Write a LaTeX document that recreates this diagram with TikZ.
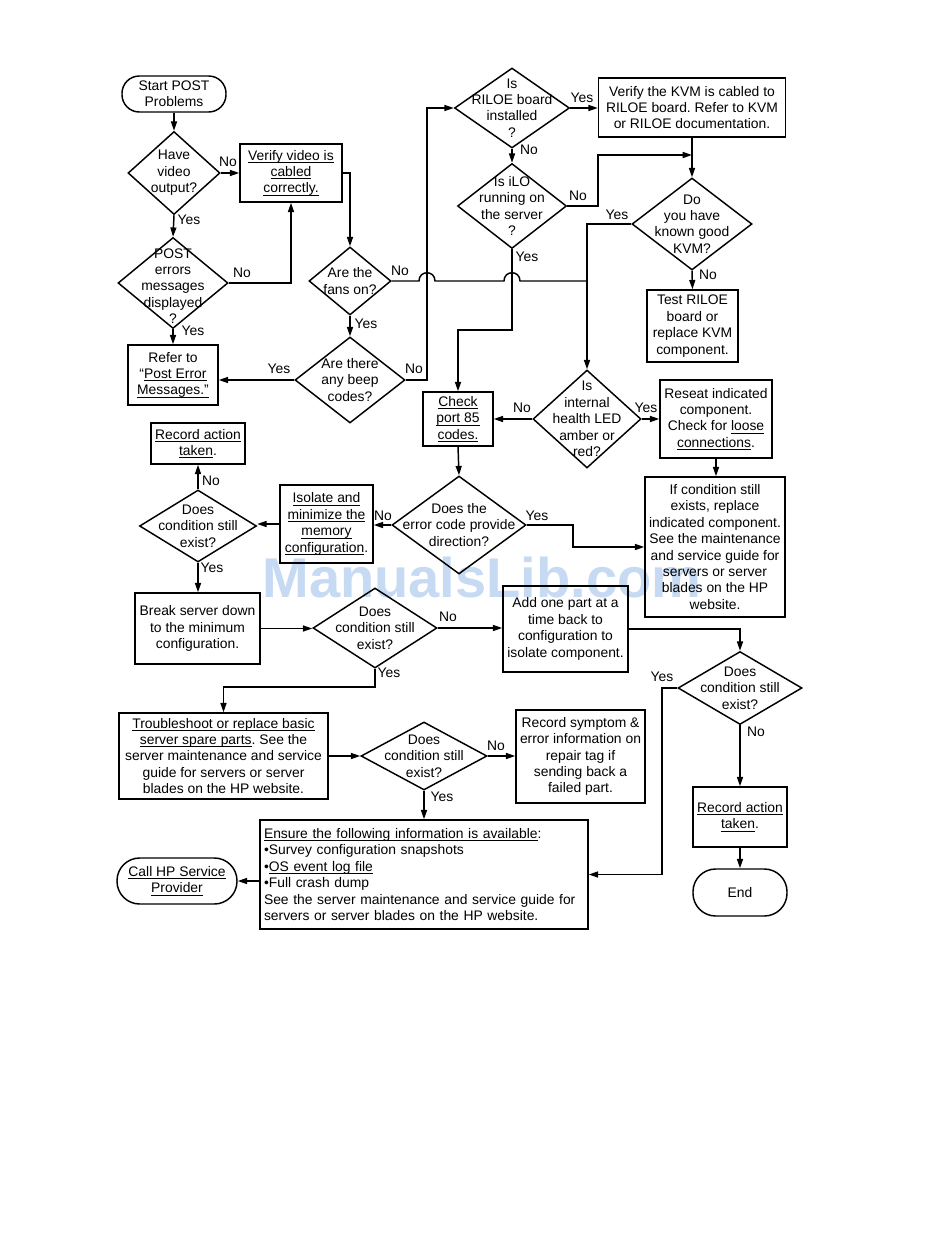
\documentclass[tikz,border=0pt]{standalone}
\usepackage{fontspec}
\setmainfont{Liberation Sans}
\usetikzlibrary{shapes.geometric,arrows.meta}
\definecolor{wmark}{RGB}{198,218,243}
\newcommand{\myul}[1]{\setbox0\hbox{#1}\rlap{\rule[-1.9pt]{\wd0}{0.55pt}}\box0}
\tikzset{
  every node/.style={font=\fontsize{10.4}{12.3}\selectfont, inner sep=0pt},
  box/.style={draw, line width=1.1pt, align=center, rectangle},
  dia/.style={draw, line width=1.1pt, diamond},
  dtext/.style={align=center},
  term/.style={draw, line width=1.1pt, align=center, rectangle},
  wh/.style 2 args={minimum width=#1*0.75pt, minimum height=#2*0.75pt},
  arr/.style={line width=1.1pt, -{Triangle[length=7pt,width=4.5pt]}},
  ln/.style={line width=1.1pt}}
\begin{document}
\frenchspacing
\begin{tikzpicture}[x=0.75pt,y=-0.75pt]
\useasboundingbox[fill=white] (0,0) rectangle (950,1260);

% watermark
\node[text=wmark, font=\fontsize{42}{44}\bfseries\selectfont] (wm) at (482,577) {ManualsLib.com};

% terminals
\node[term, wh={104}{36}, rounded corners=13pt] (start) at (174,94) {Start POST\\Problems};
\node[term, wh={94}{47}, rounded corners=17pt] (end) at (740,892.5) {End};
\node[term, wh={120}{46}, rounded corners=17pt] (call) at (177,881) {\myul{Call HP Service}\\\myul{Provider}};

% diamonds
\node[dia, wh={92}{83}] (d1) at (174,173) {};
\node[dtext] (d1t) at (d1) {Have\\video\\output?};
\node[dia, wh={110}{91}] (d2) at (173,283) {};
\node[dtext] (d2t) at (173,286) {POST\\errors\\messages\\displayed\\?};
\node[dia, wh={82}{68}] (fans) at (350,281) {};
\node[dtext] (fanst) at (fans) {Are the\\fans on?};
\node[dia, wh={110}{86}] (beep) at (350,380) {};
\node[dtext] (beept) at (beep) {Are there\\any beep\\codes?};
\node[dia, wh={115}{80}] (riloe) at (512,108) {};
\node[dtext] (riloet) at (riloe) {Is\\RILOE board\\installed\\?};
\node[dia, wh={109}{85}] (ilo) at (512,206) {};
\node[dtext] (ilot) at (ilo) {Is iLO\\running on\\the server\\?};
\node[dia, wh={120}{92}] (dokvm) at (692,224) {};
\node[dtext] (dokvmt) at (dokvm) {Do\\you have\\known good\\KVM?};
\node[dia, wh={108}{98}] (health) at (587,419) {};
\node[dtext] (healtht) at (health) {Is\\internal\\health LED\\amber or\\red?};
\node[dia, wh={134}{98}] (errdir) at (459,525) {};
\node[dtext] (errdirt) at (errdir) {Does the\\error code provide\\direction?};
\node[dia, wh={117}{72}] (dleft) at (198,526) {};
\node[dtext] (dleftt) at (dleft) {Does\\condition still\\exist?};
\node[dia, wh={124}{80}] (dmid) at (375,628) {};
\node[dtext] (dmidt) at (dmid) {Does\\condition still\\exist?};
\node[dia, wh={124}{73}] (dright) at (740,688) {};
\node[dtext] (drightt) at (dright) {Does\\condition still\\exist?};
\node[dia, wh={126}{68}] (dbot) at (424,756) {};
\node[dtext] (dbott) at (dbot) {Does\\condition still\\exist?};

% boxes
\node[box, wh={102}{58}] (verify) at (291,173) {\myul{Verify video is}\\\myul{cabled}\\\myul{correctly.}};
\node[box, wh={90}{60}] (refer) at (173,375) {Refer to\\“\myul{Post Error}\\\myul{Messages.”}};
\node[box, wh={187}{59}] (kvmbox) at (692,107.5) {Verify the KVM is cabled to\\RILOE board. Refer to KVM\\or RILOE documentation.};
\node[box, wh={91}{72}] (test) at (692.5,326) {Test RILOE\\board or\\replace KVM\\component.};
\node[box, wh={70}{54}] (check) at (458,419) {\myul{Check}\\\myul{port 85}\\\myul{codes.}};
\node[box, wh={112}{78}] (reseat) at (716,419) {Reseat indicated\\component.\\Check for \myul{loose}\\\myul{connections}.};
\node[box, wh={140}{140}] (ifcond) at (715,547) {If condition still\\exists, replace\\indicated component.\\See the maintenance\\and service guide for\\servers or server\\blades on the HP\\website.};
\node[box, wh={93}{78}] (isolate) at (326.5,524) {\myul{Isolate and}\\\myul{minimize the}\\\myul{memory}\\\myul{configuration}.};
\node[box, wh={94}{41}] (rec1) at (198,443.5) {\myul{Record action}\\\myul{taken}.};
\node[box, wh={125}{71}] (break) at (197.5,628.5) {Break server down\\to the minimum\\configuration.};
\node[box, wh={125}{86}] (addpart) at (565.5,629) {Add one part at a\\time back to\\configuration to\\isolate component.};
\node[box, wh={94}{60}] (rec2) at (740,817) {\myul{Record action}\\\myul{taken}.};
\node[box, wh={209}{86}] (trouble) at (223.5,756) {\myul{Troubleshoot or replace basic}\\\myul{server spare parts}. See the\\server maintenance and service\\guide for servers or server\\blades on the HP website.};
\node[box, wh={129}{93}] (symptom) at (580.5,756.5) {Record symptom \&\\error information on\\repair tag if\\sending back a\\failed part.};
\node[box, wh={328}{109}, align=left, text width=240pt] (ensure) at (424,874.5) {\myul{Ensure the following information is available}:\\•Survey configuration snapshots\\•\myul{OS event log file}\\•Full crash dump\\See the server maintenance and service guide for\\servers or server blades on the HP website.};

% junction coordinates
\coordinate (j1) at (587,281);
\coordinate (j2) at (692,155);
\coordinate (j3) at (573,547);
\coordinate (j4) at (662,874.5);
\coordinate (c1) at (512,330);
\coordinate (c2) at (375,687);

% connectors
\draw[arr] (start.south) -- (d1.north);
\draw[arr] (d1.east) -- (d1.east -| verify.west);
\draw[arr] (d1.south) -- (d2.north);
\draw[arr] (d2.east) -| (verify.south);
\draw[arr] (d2.south) -- (refer.north);
\draw[arr] (verify.east) -| (fans.north);
\draw[arr] (fans.south) -- (beep.north);
\draw[arr] (beep.west) -- (beep.west -| refer.east);
\draw[arr] (beep.east) -| (427,108) -- (riloe.west);
\draw[arr] (riloe.east) -- (riloe.east -| kvmbox.west);
\draw[arr] (riloe.south) -- (ilo.north);
\draw[arr] (ilo.east) -| (598,155) -- (j2);
\draw[arr] (kvmbox.south) -- (dokvm.north);
\draw[arr] (dokvm.west) -| (health.north);
\draw[arr] (dokvm.south) -- (test.north);
\draw[ln] (fans.east) -- (419,281) .. controls (419,270) and (435,270) .. (435,281) -- (504,281) .. controls (504,270) and (520,270) .. (520,281) -- (j1);
\draw[arr] (ilo.south) -- (c1) -| (check.north);
\draw[arr] (health.west) -- (health.west -| check.east);
\draw[arr] (health.east) -- (health.east -| reseat.west);
\draw[arr] (reseat.south) -- (reseat.south |- ifcond.north);
\draw[arr] (check.south) -- (errdir.north);
\draw[arr] (errdir.east) -| (j3) -- (j3 -| ifcond.west);
\draw[arr] (errdir.west) -- (errdir.west -| isolate.east);
\draw[arr] (isolate.west) -- (isolate.west -| dleft.east);
\draw[arr] (dleft.north) -- (rec1.south);
\draw[arr] (dleft.south) -- (dleft.south |- break.north);
\draw[arr] (break.east) -- (break.east -| dmid.west);
\draw[arr] (dmid.east) -- (dmid.east -| addpart.west);
\draw[arr] (addpart.east) -| (dright.north);
\draw[arr] (dright.west) -| (j4) -- (ensure.east);
\draw[arr] (dright.south) -- (rec2.north);
\draw[arr] (rec2.south) -- (end.north);
\draw[arr] (dmid.south) -- (c2) -| (trouble.north);
\draw[arr] (trouble.east) -- (trouble.east -| dbot.west);
\draw[arr] (dbot.east) -- (dbot.east -| symptom.west);
\draw[arr] (dbot.south) -- (ensure.north);
\draw[arr] (ensure.west |- call.east) -- (call.east);

% labels
\node (l1) at (228,162) {No};
\node (l2) at (189,220) {Yes};
\node (l3) at (242,273) {No};
\node (l4) at (193,331) {Yes};
\node (l5) at (400,271) {No};
\node (l6) at (366,324) {Yes};
\node (l7) at (279,369) {Yes};
\node (l8) at (414,369) {No};
\node (l9) at (582,98) {Yes};
\node (l10) at (529,150) {No};
\node (l11) at (578,196) {No};
\node (l12) at (527,257) {Yes};
\node (l13) at (617,215) {Yes};
\node (l14) at (708,275) {No};
\node (l15) at (522,408) {No};
\node (l16) at (646,408) {Yes};
\node (l17) at (537,516) {Yes};
\node (l18) at (383,516) {No};
\node (l19) at (211,481) {No};
\node (l20) at (212,568) {Yes};
\node (l21) at (448,617) {No};
\node (l22) at (389,673) {Yes};
\node (l23) at (662,677) {Yes};
\node (l24) at (756,732) {No};
\node (l25) at (496,746) {No};
\node (l26) at (442,797) {Yes};
\end{tikzpicture}
\end{document}
